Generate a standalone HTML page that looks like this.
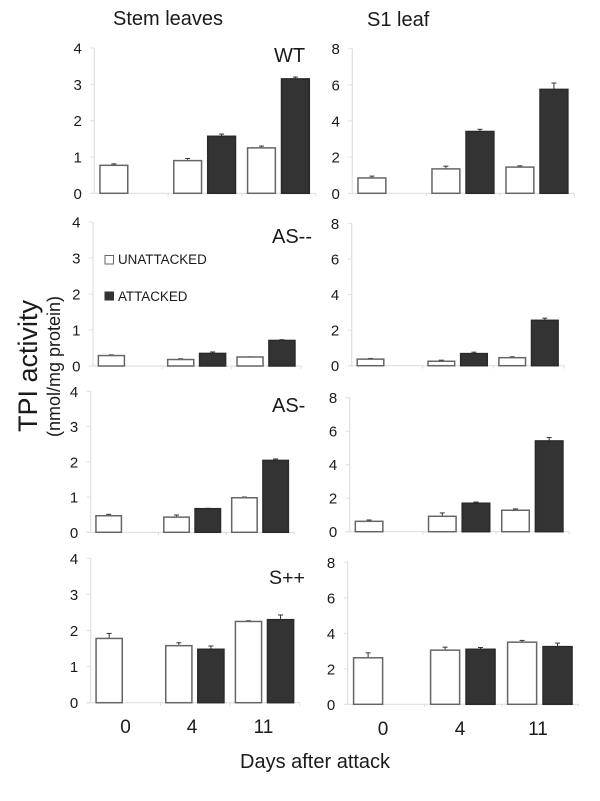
<!DOCTYPE html>
<html lang="en">
<head>
<meta charset="utf-8">
<title>TPI activity chart</title>
<style>
html,body{margin:0;padding:0;background:#fff;width:600px;height:801px;overflow:hidden}
svg{display:block;font-family:"Liberation Sans",sans-serif;fill:#1a1a1a;filter:blur(0.35px)}
</style>
</head>
<body>
<svg id="chart" width="600" height="801" viewBox="0 0 600 801" xmlns="http://www.w3.org/2000/svg">
  <rect x="0" y="0" width="600" height="801" fill="#ffffff"/>
  <text x="113" y="25" font-size="20">Stem leaves</text>
  <text x="367" y="26" font-size="20">S1 leaf</text>
  <text transform="translate(37,432) rotate(-90)" font-size="27">TPI activity</text>
  <text transform="translate(60,437) rotate(-90)" font-size="18">(nmol/mg protein)</text>
  <text x="240" y="768" font-size="20">Days after attack</text>
  <text x="274" y="62" font-size="20">WT</text>
  <text x="272" y="243" font-size="20">AS--</text>
  <text x="272" y="412" font-size="20">AS-</text>
  <text x="269" y="584" font-size="19.6">S++</text>
  <rect x="105" y="255.500" width="8.500" height="8.500" fill="#ffffff" stroke="#666666" stroke-width="1"/>
  <text x="118" y="264" font-size="13.400">UNATTACKED</text>
  <rect x="104.500" y="291.500" width="9.500" height="9" fill="#333333"/>
  <text x="118" y="301" font-size="13.400">ATTACKED</text>
  <g id="panels"></g>
  <g id="days"></g>
</svg>
<script>
var stemTicks = [0, 1, 2, 3, 4];
var s1Ticks = [0, 2, 4, 6, 8];
var dayCategories = ['0', '4', '11'];

var wtStemUnattacked = [0.77, 0.90, 1.25];
var wtStemAttacked = [null, 1.57, 3.15];
var wtStemUnattackedErr = [0.04, 0.06, 0.05];
var wtStemAttackedErr = [null, 0.06, 0.05];

var wtS1Unattacked = [0.85, 1.35, 1.45];
var wtS1Attacked = [null, 3.42, 5.75];
var wtS1UnattackedErr = [0.10, 0.15, 0.07];
var wtS1AttackedErr = [null, 0.12, 0.35];

var asdStemUnattacked = [0.29, 0.18, 0.25];
var asdStemAttacked = [null, 0.35, 0.71];
var asdStemUnattackedErr = [0.02, 0.02, 0.005];
var asdStemAttackedErr = [null, 0.04, 0.02];

var asdS1Unattacked = [0.37, 0.25, 0.45];
var asdS1Attacked = [null, 0.68, 2.55];
var asdS1UnattackedErr = [0.04, 0.06, 0.05];
var asdS1AttackedErr = [null, 0.08, 0.12];

var asStemUnattacked = [0.47, 0.43, 0.98];
var asStemAttacked = [null, 0.67, 2.04];
var asStemUnattackedErr = [0.04, 0.06, 0.02];
var asStemAttackedErr = [null, 0.01, 0.04];

var asS1Unattacked = [0.62, 0.92, 1.28];
var asS1Attacked = [null, 1.70, 5.42];
var asS1UnattackedErr = [0.08, 0.20, 0.08];
var asS1AttackedErr = [null, 0.07, 0.20];

var spStemUnattacked = [1.78, 1.58, 2.25];
var spStemAttacked = [null, 1.48, 2.30];
var spStemUnattackedErr = [0.14, 0.08, 0.02];
var spStemAttackedErr = [null, 0.09, 0.13];

var spS1Unattacked = [2.62, 3.05, 3.50];
var spS1Attacked = [null, 3.10, 3.25];
var spS1UnattackedErr = [0.28, 0.17, 0.10];
var spS1AttackedErr = [null, 0.10, 0.20];

var SVG_NS = 'http://www.w3.org/2000/svg';

function make(parent, tag, attrs) {
  var el = document.createElementNS(SVG_NS, tag);
  for (var k in attrs) { el.setAttribute(k, attrs[k]); }
  parent.appendChild(el);
  return el;
}

function drawPanel(name, box, ticks, white, black, whiteErr, blackErr) {
  var root = document.getElementById('panels');
  var g = make(root, 'g', {});
  
  

  var yMax = ticks[ticks.length - 1];
  function yScale(v) { return box.bottom - (v / yMax) * (box.bottom - box.top); }
  var band = (box.right - box.left) / dayCategories.length;
  function xBand(i) { return box.left + i * band; }
  var barW = band * 0.39;

  var yAxis = make(g, 'line', { x1: box.left, x2: box.left, y1: box.top, y2: box.bottom, stroke: '#e0e0e0', 'stroke-width': 1.2 });
  
  

  ticks.forEach(function (t) {
    var y = yScale(t);
    var mark = make(g, 'line', { x1: box.left - 4, x2: box.left, y1: y, y2: y, stroke: '#e0e0e0', 'stroke-width': 1 });
    
    
    var label = make(g, 'text', { x: box.left - 12.5, y: y + 5.5, 'text-anchor': 'end', 'font-size': 15 });
    
    
    label.textContent = t;
  });

  var xAxis = make(g, 'line', { x1: box.left - 4, x2: box.right, y1: box.bottom, y2: box.bottom, stroke: '#e0e0e0', 'stroke-width': 1.2 });
  
  

  dayCategories.forEach(function (d, i) {
    var tx = xBand(i + 1);
    var mark = make(g, 'line', { x1: tx, x2: tx, y1: box.bottom, y2: box.bottom + 3, stroke: '#e0e0e0', 'stroke-width': 1 });
    
    
  });

  function drawBar(v, e, i, offset, fill, stroke, series) {
    if (v === null) { return; }
    var x = xBand(i) + band * offset;
    var cx = x + barW / 2;
    var top = yScale(v);
    var errTop = yScale(v + e);
    var stem = make(g, 'line', { x1: cx, x2: cx, y1: top, y2: errTop, stroke: '#333333', 'stroke-width': 1 });
    
    
    var cap = make(g, 'line', { x1: cx - 2.500, x2: cx + 2.500, y1: errTop, y2: errTop, stroke: '#333333', 'stroke-width': 1 });
    
    
    var bar = make(g, 'rect', { x: x + 0.5, y: top, width: barW - 1, height: box.bottom - top, fill: fill, stroke: stroke, 'stroke-width': 1.5 });
    
    
  }

  dayCategories.forEach(function (d, i) {
    drawBar(white[i], whiteErr[i], i, 0.07, '#ffffff', '#666666', 'unattacked');
    drawBar(black[i], blackErr[i], i, 0.53, '#333333', '#2a2a2a', 'attacked');
  });
}

drawPanel('wt-stem', { left: 94.3, right: 315.7, top: 48, bottom: 193.3 }, stemTicks, wtStemUnattacked, wtStemAttacked, wtStemUnattackedErr, wtStemAttackedErr);
drawPanel('wt-s1', { left: 352.3, right: 574.3, top: 48.7, bottom: 193.3 }, s1Ticks, wtS1Unattacked, wtS1Attacked, wtS1UnattackedErr, wtS1AttackedErr);
drawPanel('as-double-minus-stem', { left: 93, right: 301, top: 222, bottom: 366 }, stemTicks, asdStemUnattacked, asdStemAttacked, asdStemUnattackedErr, asdStemAttackedErr);
drawPanel('as-double-minus-s1', { left: 351.7, right: 564.3, top: 223.3, bottom: 365.7 }, s1Ticks, asdS1Unattacked, asdS1Attacked, asdS1UnattackedErr, asdS1AttackedErr);
drawPanel('as-minus-stem', { left: 90.7, right: 294.3, top: 391.3, bottom: 532.3 }, stemTicks, asStemUnattacked, asStemAttacked, asStemUnattackedErr, asStemAttackedErr);
drawPanel('as-minus-s1', { left: 349.7, right: 569.3, top: 397.7, bottom: 531.7 }, s1Ticks, asS1Unattacked, asS1Attacked, asS1UnattackedErr, asS1AttackedErr);
drawPanel('s-plus-plus-stem', { left: 90.7, right: 299.7, top: 558.3, bottom: 702.7 }, stemTicks, spStemUnattacked, spStemAttacked, spStemUnattackedErr, spStemAttackedErr);
drawPanel('s-plus-plus-s1', { left: 347.7, right: 578.7, top: 562.3, bottom: 704.3 }, s1Ticks, spS1Unattacked, spS1Attacked, spS1UnattackedErr, spS1AttackedErr);

function drawDayLabels(centers, baseline) {
  var parent = document.getElementById('days');
  dayCategories.forEach(function (d, i) {
    var t = make(parent, 'text', { x: centers[i], y: baseline, 'text-anchor': 'middle', 'font-size': 19 });
    
    
    t.textContent = d;
  });
}
drawDayLabels([125.5, 192, 263.5], 733);
drawDayLabels([383, 460, 538], 735);
</script>
</body>
</html>
